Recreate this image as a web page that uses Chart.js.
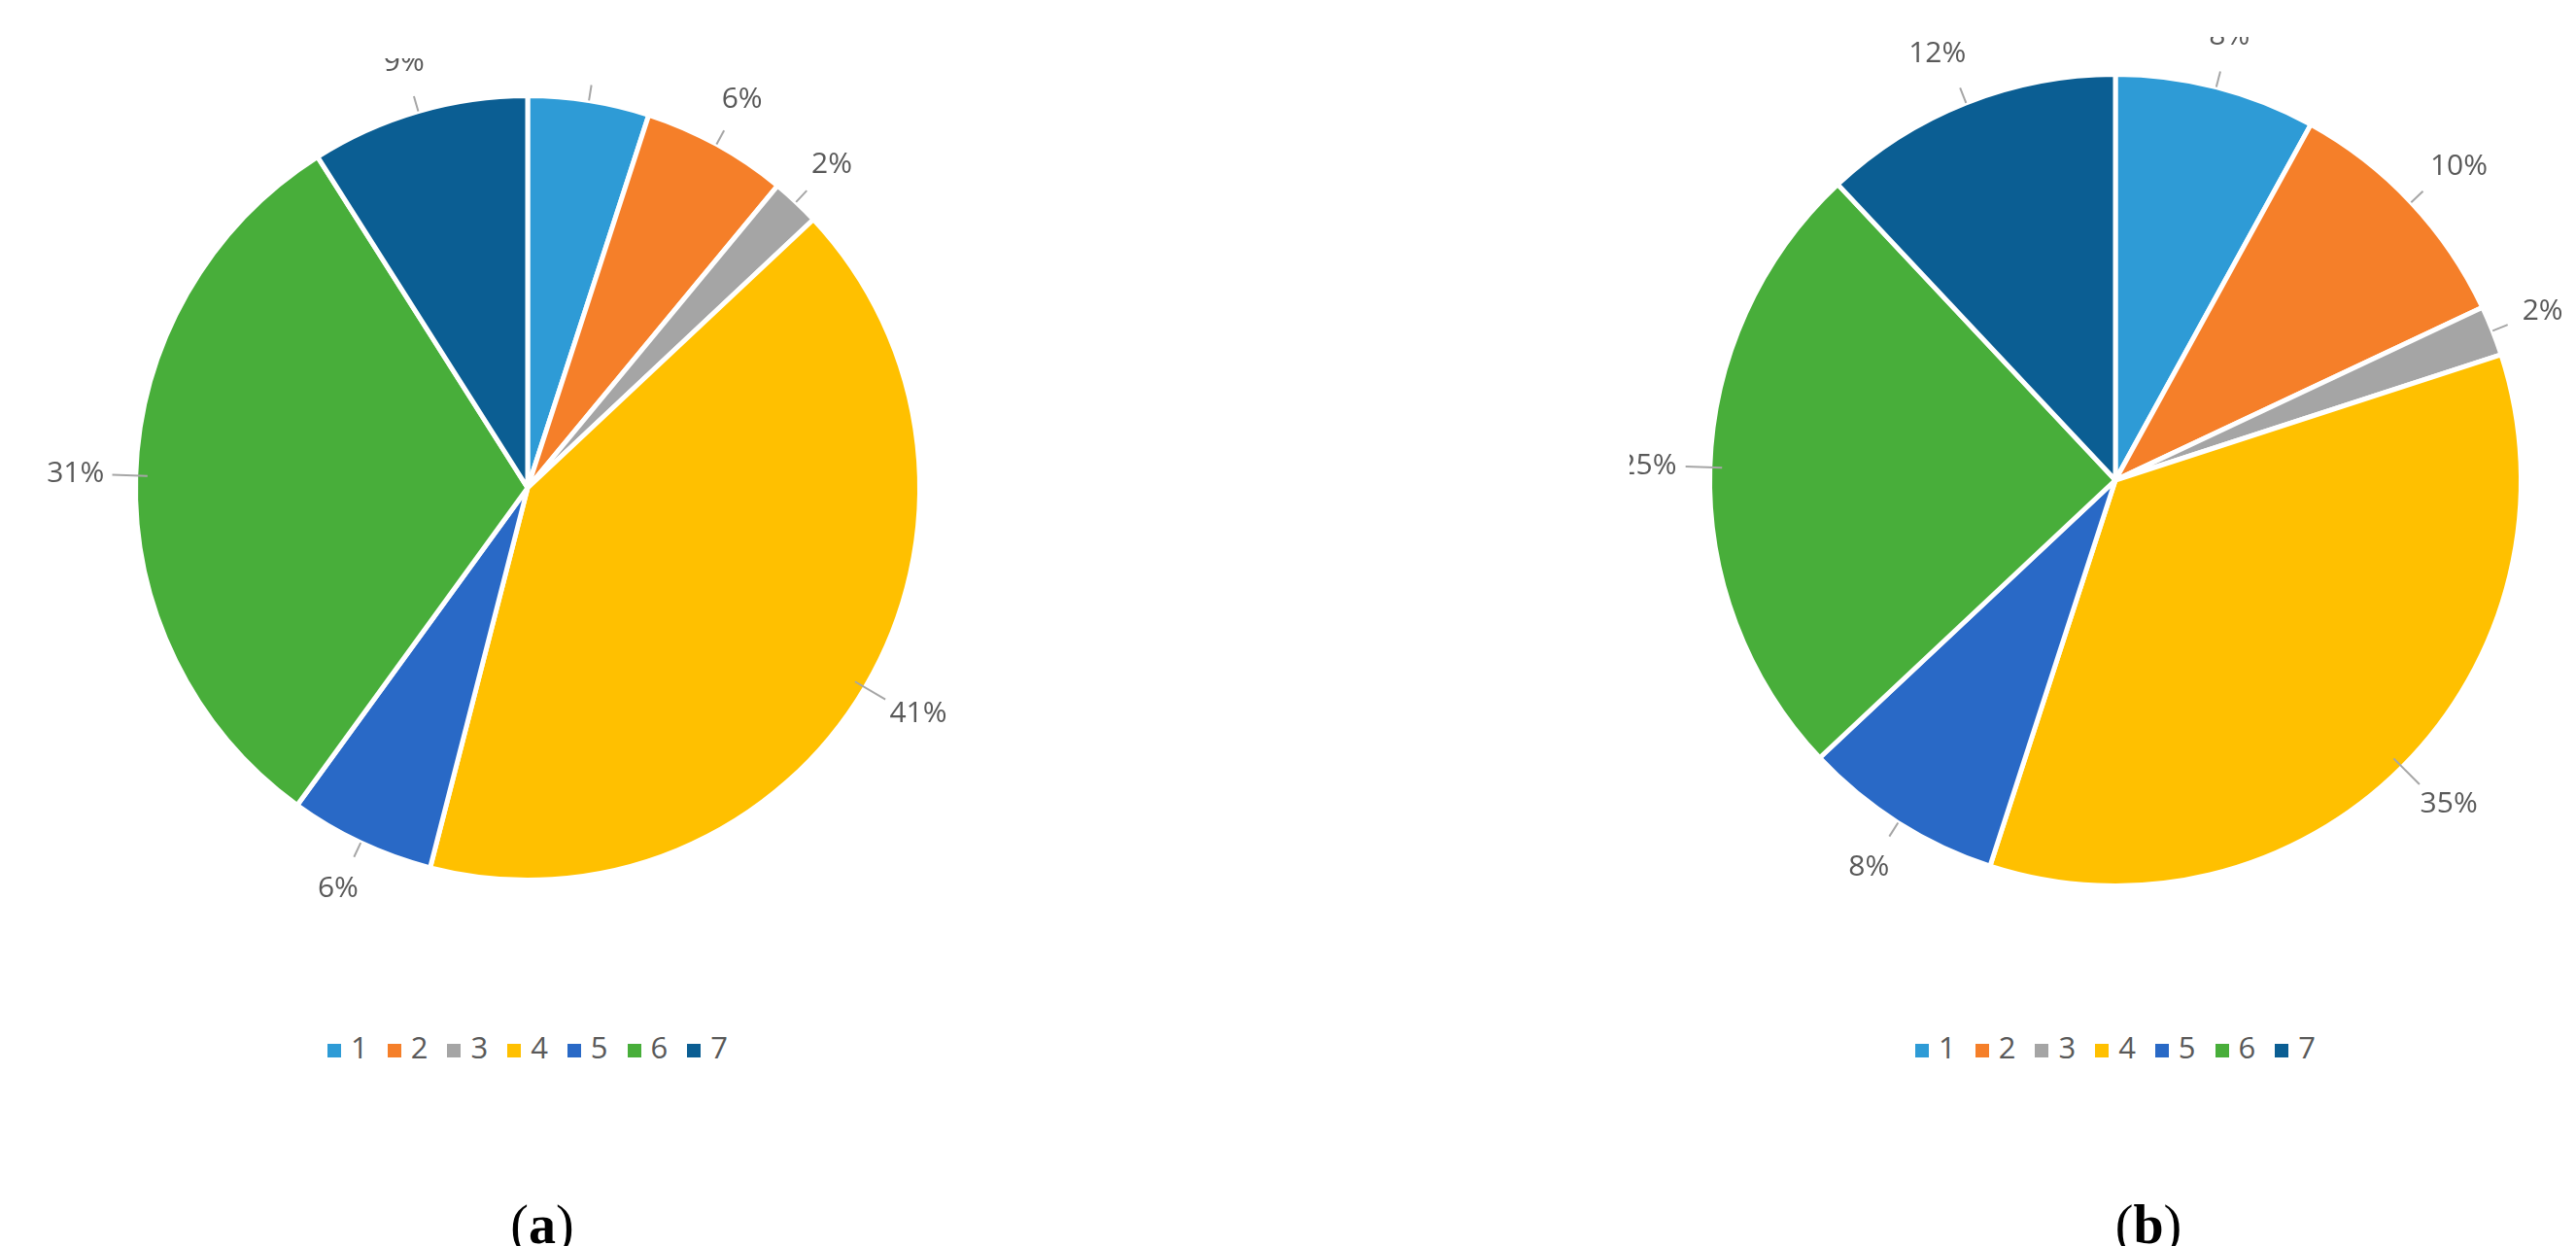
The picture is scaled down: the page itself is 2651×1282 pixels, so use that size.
<!DOCTYPE html>
<html><head><meta charset="utf-8">
<script src="https://cdn.jsdelivr.net/npm/chart.js@4"></script>
<style>
body{margin:0;background:#fff;width:2651px;height:1282px;position:relative;overflow:hidden;font-family:"Open Sans","DejaVu Sans",sans-serif}
.wrap{position:absolute}
.legend{position:absolute;top:1056px;width:1000px;text-align:center;font-size:31px;color:#595959}
.legend span{display:inline-block;margin:0 10px}
.legend i{display:inline-block;width:14px;height:14px;margin-right:10px;vertical-align:middle}
.cap{position:absolute;top:1228px;font-family:"Liberation Serif",serif;font-size:56px;transform:translateX(-50%)}
</style></head>
<body>
<div class="wrap" style="left:43px;top:60px;width:1000px;height:884px"><canvas id="pieA"></canvas></div>
<div class="wrap" style="left:1677px;top:38px;width:1000px;height:912px"><canvas id="pieB"></canvas></div>
<div class="legend" id="legA" style="left:43px"></div>
<div class="legend" id="legB" style="left:1677px"></div>
<div class="cap" style="left:558px">(<b>a</b>)</div>
<div class="cap" style="left:2211px">(<b>b</b>)</div>
<script>
var categories = ['1', '2', '3', '4', '5', '6', '7'];
var valuesA = [5, 6, 2, 41, 6, 31, 9];
var valuesB = [8, 10, 2, 35, 8, 25, 12];
var colors = ['#2e9bd6', '#f57f29', '#a5a5a5', '#ffc000', '#2969c6', '#48ae3a', '#0b5e93'];

// 外側百分比標籤 + 引導線
var outLabels = {
    id: 'outLabels',
    afterDatasetsDraw: function (chart) {
        var ctx = chart.ctx;
        var meta = chart.getDatasetMeta(0);
        var data = chart.data.datasets[0].data;
        ctx.save();
        ctx.font = '30px "Open Sans", "DejaVu Sans", sans-serif';
        ctx.fillStyle = '#595959';
        ctx.strokeStyle = '#a6a6a6';
        ctx.lineWidth = 2;
        meta.data.forEach(function (arc, i) {
            var a = (arc.startAngle + arc.endAngle) / 2;
            var r = arc.outerRadius;
            var cx = arc.x, cy = arc.y;
            var big = data[i] > 20;
            var p1 = big ? r * 0.97 : r;
            var p2 = big ? r * 1.06 : r * 1.04;
            ctx.beginPath();
            ctx.moveTo(cx + Math.cos(a) * p1, cy + Math.sin(a) * p1);
            ctx.lineTo(cx + Math.cos(a) * p2, cy + Math.sin(a) * p2);
            ctx.stroke();
            var lr = r * 1.13;
            var x = cx + Math.cos(a) * lr, y = cy + Math.sin(a) * lr;
            ctx.textAlign = Math.cos(a) > 0.3 ? 'left' : (Math.cos(a) < -0.3 ? 'right' : 'center');
            ctx.textBaseline = 'middle';
            ctx.fillText(data[i] + '%', Math.cos(a) > 0.3 ? x - 20 : (Math.cos(a) < -0.3 ? x + 20 : x), y);
        });
        ctx.restore();
    }
};

function makePie(id, values) {
    new Chart(document.getElementById(id), {
        type: 'pie',
        data: {
            labels: categories,
            datasets: [{ data: values, backgroundColor: colors, borderColor: '#fff', borderWidth: 5 }]
        },
        options: {
            responsive: true,
            maintainAspectRatio: false,
            animation: false,
            layout: { padding: 36 },
            plugins: { legend: { display: false }, tooltip: { enabled: false } }
        },
        plugins: [outLabels]
    });
}

function makeLegend(id) {
    document.getElementById(id).innerHTML = categories.map(function (c, i) {
        return '<span><i style="background:' + colors[i] + '"></i>' + c + '</span>';
    }).join('');
}

makePie('pieA', valuesA);
makePie('pieB', valuesB);
makeLegend('legA');
makeLegend('legB');
</script>
</body></html>
